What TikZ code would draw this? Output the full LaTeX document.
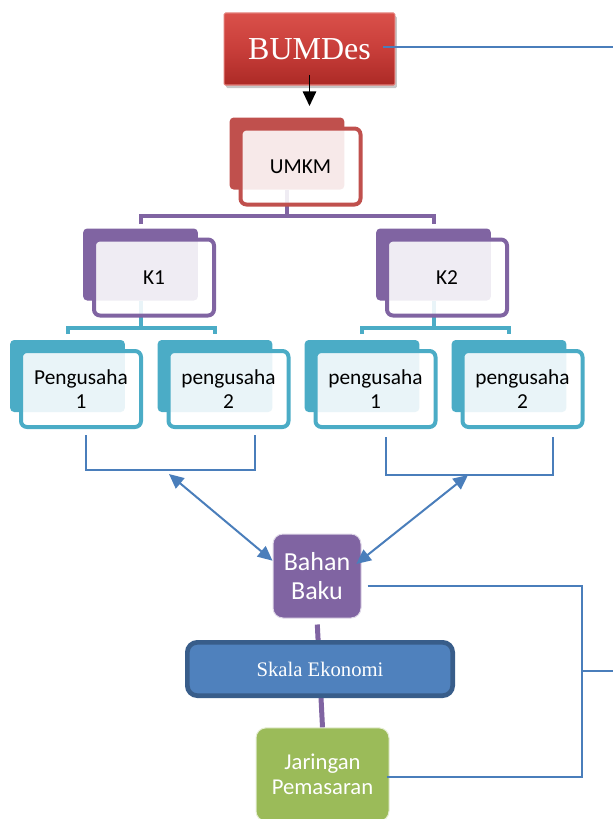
\documentclass[tikz,border=0pt]{standalone}
\usepackage{fontspec}
\setmainfont{Liberation Serif}
\setsansfont{Carlito}
\usetikzlibrary{arrows.meta}

\definecolor{bumdesTop}{RGB}{218,80,74}
\definecolor{bumdesMid}{RGB}{200,62,58}
\definecolor{bumdesBot}{RGB}{172,42,38}
\definecolor{umkmRed}{RGB}{192,80,77}
\definecolor{kPurple}{RGB}{128,100,162}
\definecolor{pTeal}{RGB}{75,172,198}
\definecolor{linkBlue}{RGB}{74,126,187}
\definecolor{skalaBlue}{RGB}{79,129,189}
\definecolor{skalaEdge}{RGB}{56,93,138}
\definecolor{pasarGreen}{RGB}{155,187,89}

\tikzset{every picture/.style={line width=0.75pt}}
\tikzset{
  backbox/.style={rectangle, rounded corners=3pt, inner sep=0pt, minimum width=86pt, minimum height=54pt},
  frontbox/.style={rectangle, rounded corners=4.5pt, draw, line width=3pt, fill=white, fill opacity=0.88, text opacity=1,
    inner sep=0pt, minimum width=90pt, minimum height=57pt, align=center, font=\sffamily\fontsize{16}{18.5}\selectfont},
  klink/.style={draw=kPurple, line width=3pt},
  plink/.style={draw=pTeal, line width=3pt},
  bluelink/.style={draw=linkBlue, line width=1.2pt},
  dblarrow/.style={draw=linkBlue, line width=1.5pt, {Triangle[length=11pt,width=10pt]}-{Triangle[length=11pt,width=10pt]}},
  downarrow/.style={draw=black, line width=1.3pt, -{Triangle[length=11pt,width=10pt]}},
  roundbox/.style={rectangle, rounded corners=7.5pt, inner sep=0pt, align=center, text=white}
}

\begin{document}
\begin{tikzpicture}[x=0.75pt,y=0.75pt,yscale=-1,xscale=1]
%set diagram left start at 0, and has height of 819
\useasboundingbox (0,0) rectangle (613,819);

%Shape: Rectangle (shadow)
\node[rectangle, rounded corners=1pt, fill=black, fill opacity=0.22, minimum width=128pt, minimum height=54pt] (bumdesShade) at (311.5,52) {};
%Shape: Rectangle
\node[rectangle, rounded corners=1pt, top color=bumdesTop, bottom color=bumdesBot, middle color=bumdesMid, draw=bumdesTop!75!white, line width=0.8pt,
  inner sep=0pt, minimum width=128pt, minimum height=54pt, text=white, font=\fontsize{24}{28}\selectfont] (bumdes) at (309.5,49) {BUMDes};

%Straight Lines
\coordinate (edgeTop) at (613,47);
\draw[bluelink, shorten <=-9pt] (bumdes.east |- edgeTop) -- (edgeTop);
%Straight Lines
\coordinate (umkmTop) at (287,117.5);
\draw[downarrow, shorten <=-8pt, shorten >=8.6pt] (bumdes.south) -- (bumdes.south |- umkmTop);

%Straight Lines
\coordinate (kjoint) at (287,216);
\coordinate (pjoint1) at (140.5,328);
\coordinate (pjoint2) at (433.5,328);

% Back boxes
\node[backbox, fill=umkmRed] (umkmB) at (287,153.5) {};
\node[backbox, fill=kPurple] (k1B) at (140.5,264.5) {};
\node[backbox, fill=kPurple] (k2B) at (433.5,264.5) {};
\node[backbox, fill=pTeal] (p1B) at (67.5,376) {};
\node[backbox, fill=pTeal] (p2B) at (215,376) {};
\node[backbox, fill=pTeal] (p3B) at (362,376) {};
\node[backbox, fill=pTeal] (p4B) at (509,376) {};

% Links
\draw[klink] (umkmB.south) -- (umkmB.south |- kjoint);
\draw[klink, shorten <=3pt, shorten >=3pt] (k1B.north) |- (kjoint) -| (k2B.north);
\draw[plink] (k1B.south) -- (k1B.south |- pjoint1);
\draw[plink] (k2B.south) -- (k2B.south |- pjoint2);
\draw[plink, shorten <=4pt, shorten >=4pt] (p1B.north) |- (pjoint1) -| (p2B.north);
\draw[plink, shorten <=4pt, shorten >=4pt] (p3B.north) |- (pjoint2) -| (p4B.north);

% Text Node
\node[frontbox, draw=umkmRed] (umkm) at (300.5,166.5) {UMKM};
% Text Node
\node[frontbox, draw=kPurple] (k1) at (154,277.5) {K1};
% Text Node
\node[frontbox, draw=kPurple] (k2) at (447,277.5) {K2};
% Text Node
\node[frontbox, draw=pTeal] (p1) at (81,389) {Pengusaha\\1};
% Text Node
\node[frontbox, draw=pTeal] (p2) at (228.5,389) {pengusaha\\2};
% Text Node
\node[frontbox, draw=pTeal] (p3) at (375.5,389) {pengusaha\\1};
% Text Node
\node[frontbox, draw=pTeal] (p4) at (522.5,389) {pengusaha\\2};

%Straight Lines
\coordinate (brk1L) at (86,470);
\coordinate (brk1R) at (255,470);
\coordinate (brk2L) at (386,475);
\coordinate (brk2R) at (553,475);
\draw[bluelink, shorten <=4.5pt, shorten >=4.5pt] (p1.south -| brk1L) -- (brk1L) -- (brk1R) -- (p2.south -| brk1R);
\draw[bluelink, shorten <=6pt, shorten >=6pt] (p3.south -| brk2L) -- (brk2L) -- (brk2R) -- (p4.south -| brk2R);

% Text Node
\node[roundbox, fill=kPurple, draw=white!75!kPurple, minimum width=66pt, minimum height=63pt,
  font=\sffamily\fontsize{19.5}{22}\selectfont] (bahan) at (317,576) {Bahan\\Baku};

%Straight Lines
\coordinate (mid1) at (169,474);
\coordinate (mid2) at (468,475);
\draw[dblarrow] (mid1) -- (bahan.161);
\draw[dblarrow, shorten >=-5pt] (mid2) -- (bahan.20);

% Text Node
\node[roundbox, fill=pasarGreen, draw=white!75!pasarGreen, minimum width=99.75pt, minimum height=70pt,
  font=\sffamily\fontsize{17}{19}\selectfont] (jaringan) at (322.5,774.5) {Jaringan\\Pemasaran};

%Straight Lines
\draw[klink, line width=3.75pt, shorten <=4.5pt] (bahan.south) -- (jaringan.north);

% Text Node
\node[roundbox, fill=skalaBlue, draw=skalaEdge, line width=3.5pt, minimum width=199pt, minimum height=40pt,
  font=\fontsize{15.5}{18}\selectfont] (skala) at (320,669) {Skala Ekonomi};

%Straight Lines
\coordinate (loopTop) at (582,586);
\coordinate (loopBot) at (582,777);
\coordinate (loopOut) at (613,671);
\draw[bluelink, shorten <=4.5pt, shorten >=-2pt] (bahan.east |- loopTop) -- (loopTop) -- (loopBot) -- (jaringan.east |- loopBot);
\draw[bluelink] (loopTop |- loopOut) -- (loopOut);

\end{tikzpicture}
\end{document}
